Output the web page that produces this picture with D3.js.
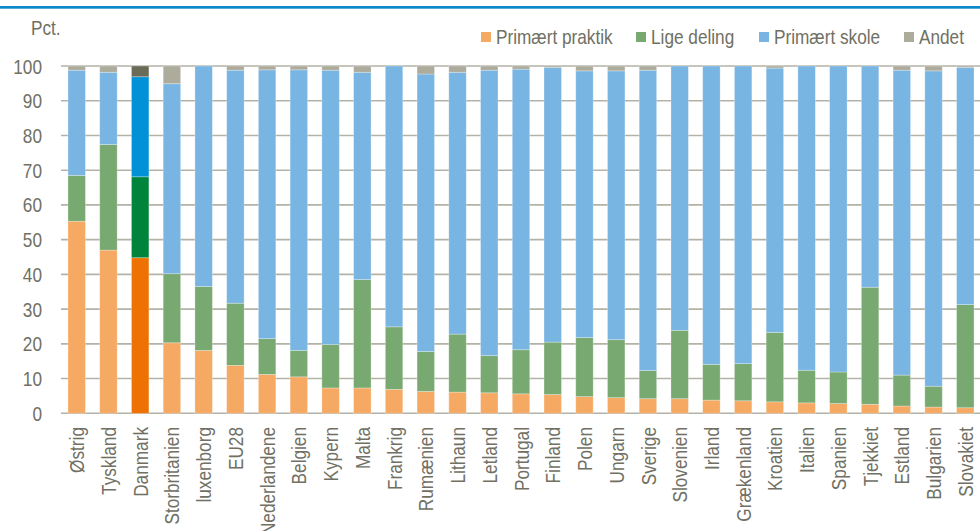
<!DOCTYPE html>
<html>
<head>
<meta charset="utf-8">
<script src="https://cdn.jsdelivr.net/npm/d3@7"></script>
<style>
  html, body { margin: 0; padding: 0; background: #fff; }
  svg { display: block; }
  text { font-family: "Liberation Sans", Arial, sans-serif; fill: #707064; }
</style>
</head>
<body>
<svg id="chart" width="980" height="531"></svg>
<script>
const categories = ["Østrig","Tyskland","Danmark","Storbritanien","luxenborg","EU28","Nederlandene","Belgien","Kypern","Malta","Frankrig","Rumænien","Lithaun","Letland","Portugal","Finland","Polen","Ungarn","Sverige","Slovenien","Irland","Grækenland","Kroatien","Italien","Spanien","Tjekkiet","Estland","Bulgarien","Slovakiet"];
const primaertPraktik = [55.3,47.0,44.8,20.3,18.1,13.8,11.2,10.5,7.3,7.3,6.9,6.3,6.1,5.9,5.6,5.4,4.8,4.5,4.2,4.2,3.8,3.6,3.3,3.0,2.8,2.6,2.1,1.8,1.6];
const ligeDeling = [13.2,30.4,23.3,19.9,18.4,17.9,10.3,7.6,12.5,31.2,18.0,11.5,16.7,10.7,12.7,15.1,17.0,16.7,8.1,19.7,10.3,10.7,20.0,9.4,9.1,33.7,8.9,6.0,29.7];
const primaertSkole = [30.3,20.8,28.8,54.7,63.5,67.1,77.4,80.8,79.0,59.7,75.1,79.9,75.4,82.2,80.8,79.1,76.8,77.4,86.5,76.1,85.9,85.7,76.1,87.6,88.1,63.7,87.8,90.8,68.3];
const andet = [1.2,1.8,3.1,5.1,0.0,1.2,1.1,1.1,1.2,1.8,0.0,2.3,1.8,1.2,0.9,0.4,1.4,1.4,1.2,0.0,0.0,0.0,0.6,0.0,0.0,0.0,1.2,1.4,0.4];
const seriesNames = ["Primært praktik","Lige deling","Primært skole","Andet"];
const yTicks = [0,10,20,30,40,50,60,70,80,90,100];
const highlight = "Danmark";

const colors = ["#F5A963","#78A970","#78B5E3","#ADAB9C"];
const highlightColors = ["#EE7203","#00843C","#0091D6","#6B6B58"];
const narrow = 0.82;

const keys = ["p","l","s","a"];
const table = categories.map((c,i) => ({cat:c, p:primaertPraktik[i], l:ligeDeling[i], s:primaertSkole[i], a:andet[i]}));

const svg = d3.select("#chart");

// top blue rule
svg.append("rect").attr("x",0).attr("y",6).attr("width",980).attr("height",2.7).attr("fill","#0A89C9");

const x = d3.scaleBand().domain(categories).range([61, 981]).paddingInner(0.45).paddingOuter(0.22);
const y = d3.scaleLinear().domain([0,100]).range([413.3, 66]);

// gridlines
svg.append("g").selectAll("line").data(yTicks).join("line")
  .attr("x1",61).attr("x2",980)
  .attr("y1",d=>y(d)).attr("y2",d=>y(d))
  .attr("stroke","#B3B2A6").attr("stroke-width",1.6);

// y tick labels
svg.append("g").selectAll("text").data(yTicks).join("text")
  .attr("transform", d => `translate(42,${y(d)}) scale(${narrow},1)`)
  .attr("dy","0.36em")
  .attr("text-anchor","end").attr("font-size",21).text(d=>d);

svg.append("text").attr("transform",`translate(31,35) scale(${narrow},1)`).attr("font-size",21).text("Pct.");

const stack = d3.stack().keys(keys);
const stacked = stack(table);

const g = svg.append("g");
stacked.forEach((layer, k) => {
  g.append("g").selectAll("rect").data(layer).join("rect")
    .attr("x", d => x(d.data.cat))
    .attr("width", x.bandwidth())
    .attr("y", d => y(d[1]))
    .attr("height", d => Math.max(0, y(d[0]) - y(d[1])))
    .attr("fill", d => d.data.cat === highlight ? highlightColors[k] : colors[k])
    .attr("stroke", "#ffffff").attr("stroke-opacity", 0.35).attr("stroke-width", 0.8);
});

// x axis labels
svg.append("g").selectAll("text").data(categories).join("text")
  .attr("transform", d => `translate(${x(d)+x.bandwidth()/2},427) rotate(-90) scale(${narrow},1)`)
  .attr("dy","0.36em").attr("text-anchor","end").attr("font-size",21).text(d=>d);

// legend
const legendPos = [481, 636, 759, 904];
const legend = svg.append("g");
seriesNames.forEach((n,i) => {
  legend.append("rect").attr("x",legendPos[i]).attr("y",32).attr("width",10).attr("height",10).attr("fill",colors[i]);
  legend.append("text").attr("transform",`translate(${legendPos[i]+15},44) scale(${narrow},1)`).attr("font-size",21).text(n);
});
</script>
</body>
</html>
